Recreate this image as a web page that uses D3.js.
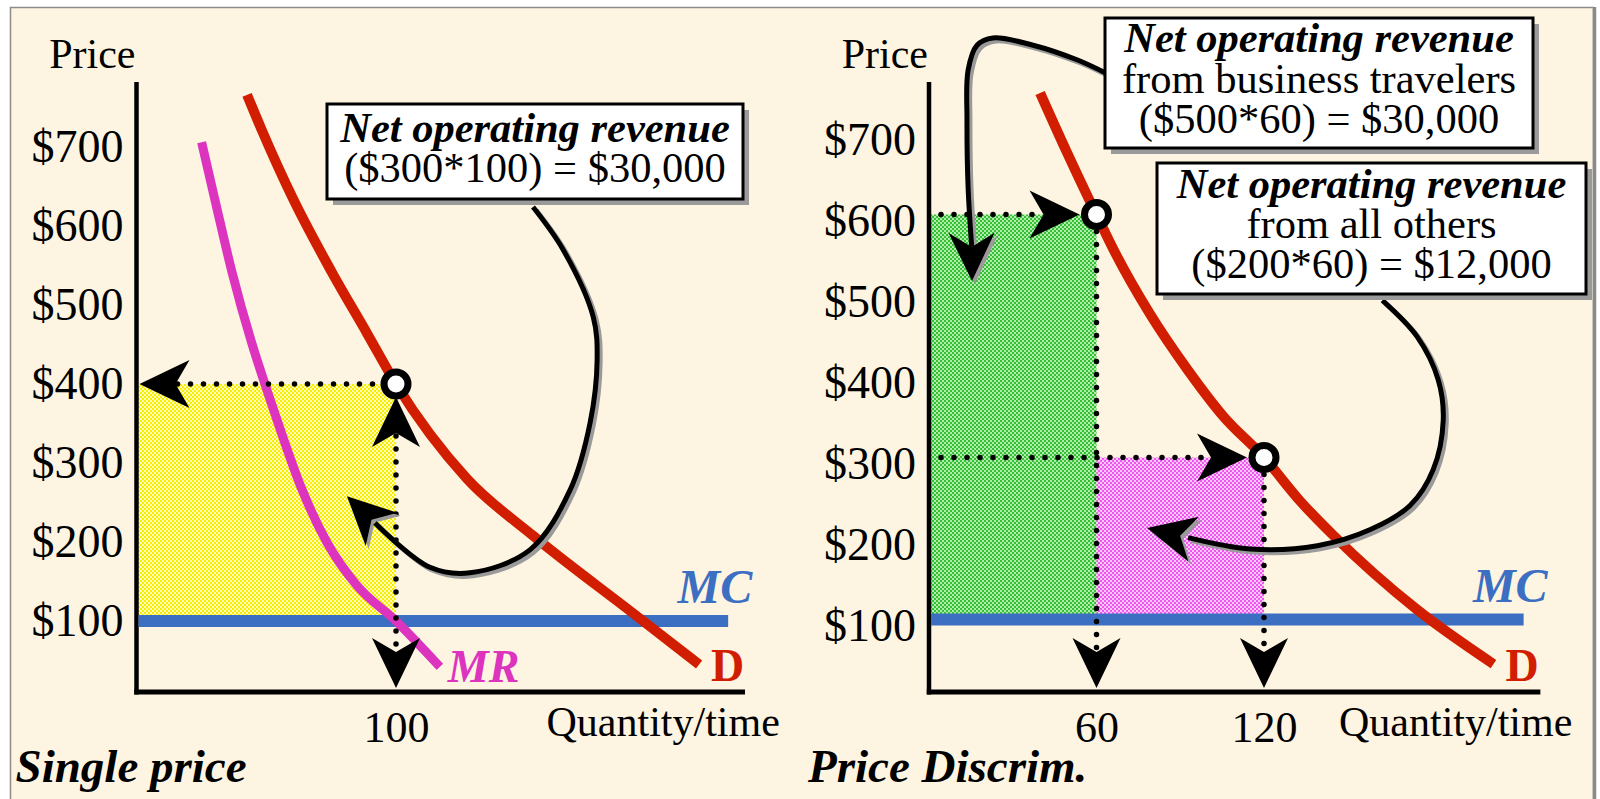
<!DOCTYPE html>
<html>
<head>
<meta charset="utf-8">
<script src="https://cdn.jsdelivr.net/npm/d3@7"></script>
<style>
  html, body { margin: 0; padding: 0; background: #ffffff; }
  svg { display: block; }
</style>
</head>
<body>
<svg id="chart" width="1600" height="799"></svg>
<script>
// ---- values -------------------------------------------------------------
const priceTicks = [100, 200, 300, 400, 500, 600, 700];
const marginalCost = 100;

// Single price: one quantity, one price
const singleQtyTicks = [100];
const singleQty = 100;
const singlePrice = 400;
const demandSingle = [[42.6,766],[48.2,722],[60.4,634],[75.2,542],[88.7,465],[100,400],
                      [127.4,280],[152.8,208],[191.3,110],[216.8,45]];
const marginalRevenue = [[25.1,706],[30.3,632],[36.7,543],[44.4,452],[50.4,391],[54.0,356],
                         [63.7,267],[73.3,200],[84.9,145],[100,100],[116.9,42]];

// Price discrimination: business travellers first, then everybody else
const discrimQtyTicks = [60, 120];
const segmentQty = [60, 120];
const segmentPrice = [600, 300];
const demandDiscrim = [[39.8,750],[49.5,676],[56.6,624],[60,600],[65.9,558],[79.2,477],
                       [92.5,409],[105.4,351],[120,300],[133,246],[144.8,204],
                       [174.9,112],[202.2,45]];

// Callout wording
const singleBox = [
  { text: "Net operating revenue", em: true },
  { text: "($300*100) = $30,000", em: false }
];
const businessBox = [
  { text: "Net operating revenue", em: true },
  { text: "from business travelers", em: false },
  { text: "($500*60) = $30,000", em: false }
];
const othersBox = [
  { text: "Net operating revenue", em: true },
  { text: "from all others", em: false },
  { text: "($200*60) = $12,000", em: false }
];

// Callout leader paths (in each panel's quantity/price units) and their arrow tips
const singleLeader = [[152.8,624],[164.4,570],[176,485],[177.5,430],[174.8,351],[167.1,266],
                      [151.6,190],[128.5,161],[113.1,168],[91.9,224]];
const singleLeaderTip = [81.1, 258];
const businessLeader = [[63.1,775],[53,791],[37.3,809],[22.9,818],[17.2,809],[14,778],
                        [13.6,717],[14,634],[15.3,560]];
const businessLeaderTip = [15.4, 518];
const othersLeader = [[162.4,494],[174.9,449],[182.4,396],[184.2,346],[180.6,285],[172.4,241],
                      [158.1,211],[139.1,191],[115.1,187],[92.8,201]];
const othersLeaderTip = [78.1, 213];

// ---- styling ------------------------------------------------------------
const SERIF = '"Liberation Serif", "Times New Roman", Times, serif';
const CREAM = "#fdf5e2";
const RED = "#d21e00";
const MAGENTA = "#dc34be";
const BLUE = "#3c6fc1";
const AXIS_Y = 692;

const svg = d3.select("#chart");
const defs = svg.append("defs");

function checker(id, dark, light) {
  const p = defs.append("pattern").attr("id", id)
    .attr("patternUnits", "userSpaceOnUse").attr("width", 4).attr("height", 4);
  p.append("rect").attr("width", 4).attr("height", 4).attr("fill", light);
  p.append("rect").attr("width", 2).attr("height", 2).attr("fill", dark);
  p.append("rect").attr("x", 2).attr("y", 2).attr("width", 2).attr("height", 2).attr("fill", dark);
}
checker("fillYellow", "#f7ee00", "#fffbb8");
checker("fillGreen", "#34c034", "#b2ecab");
checker("fillPink", "#ef55ef", "#ffc8ff");

// page frame
svg.append("rect").attr("x", 10.5).attr("y", 7.5).attr("width", 1583).attr("height", 800)
  .attr("fill", CREAM).attr("stroke", "#8c8c8c").attr("stroke-width", 1.5);
svg.append("line").attr("x1", 1594.5).attr("x2", 1594.5).attr("y1", 7).attr("y2", 799)
  .attr("stroke", "#8a8a8a").attr("stroke-width", 3.5);

// ---- panels -------------------------------------------------------------
const panels = [
  {
    key: "single",
    x: d3.scaleLinear().domain([0, 100]).range([136.5, 396]),
    y: d3.scaleLinear().domain([0, 700]).range([700, 147]),
    qMax: 234.5, mcEnd: 228, tickDy: 14.5,
    qTicks: singleQtyTicks, demand: demandSingle, title: "Single price"
  },
  {
    key: "discrim",
    x: d3.scaleLinear().domain([0, 120]).range([929, 1264]),
    y: d3.scaleLinear().domain([0, 700]).range([700.5, 133.5]),
    qMax: 219, mcEnd: 213, tickDy: 20.5,
    qTicks: discrimQtyTicks, demand: demandDiscrim, title: "Price Discrim."
  }
];

function arrowHead(g, tip, ux, uy, L, W, N, fill) {
  const px = -uy, py = ux;
  const pts = [
    [tip[0], tip[1]],
    [tip[0] - L * ux + W * px, tip[1] - L * uy + W * py],
    [tip[0] - N * ux, tip[1] - N * uy],
    [tip[0] - L * ux - W * px, tip[1] - L * uy - W * py]
  ];
  return g.append("polygon").attr("points", pts.map(p => p.join(",")).join(" ")).attr("fill", fill);
}

function dotted(g, x1, y1, x2, y2) {
  g.append("line").attr("x1", x1).attr("y1", y1).attr("x2", x2).attr("y2", y2)
    .attr("stroke", "#000").attr("stroke-width", 5.5)
    .attr("stroke-linecap", "round").attr("stroke-dasharray", "0 13");
}

function leader(g, P, pts, tipQP) {
  const px = pts.map(d => [P.x(d[0]), P.y(d[1])]);
  const tip = [P.x(tipQP[0]), P.y(tipQP[1])];
  const last = px[px.length - 1];
  let dx = tip[0] - last[0], dy = tip[1] - last[1];
  const len = Math.hypot(dx, dy); dx /= len; dy /= len;
  const line = d3.line().curve(d3.curveCatmullRom.alpha(0.5));
  const shadow = g.append("g").attr("transform", "translate(3,3)");
  shadow.append("path").attr("d", line(px)).attr("fill", "none")
    .attr("stroke", "#9a9a9a").attr("stroke-width", 5);
  arrowHead(shadow, tip, dx, dy, 48, 23, 34, "#9a9a9a");
  g.append("path").attr("d", line(px)).attr("fill", "none")
    .attr("stroke", "#000").attr("stroke-width", 5);
  arrowHead(g, tip, dx, dy, 48, 23, 34, "#000");
}

function calloutBox(g, x, y, w, h, lines, baselines) {
  g.append("rect").attr("x", x + 6).attr("y", y + 6).attr("width", w).attr("height", h)
    .attr("fill", "#9a9a9a");
  g.append("rect").attr("x", x).attr("y", y).attr("width", w).attr("height", h)
    .attr("fill", "#ffffff").attr("stroke", "#000").attr("stroke-width", 3);
  g.selectAll("text.line").data(lines).join("text").attr("class", "line")
    .attr("x", x + w / 2).attr("y", (d, i) => baselines[i])
    .attr("text-anchor", "middle").attr("font-family", SERIF).attr("font-size", 42.5)
    .attr("font-weight", d => d.em ? "bold" : "normal")
    .attr("font-style", d => d.em ? "italic" : "normal")
    .text(d => d.text);
}

panels.forEach(P => {
  const g = svg.append("g").attr("class", "panel-" + P.key);
  const line = d3.line().x(d => P.x(d[0])).y(d => P.y(d[1])).curve(d3.curveMonotoneX);
  const x0 = P.x(0);

  // revenue areas
  if (P.key === "single") {
    g.append("rect").attr("x", x0 + 2).attr("y", P.y(singlePrice))
      .attr("width", P.x(singleQty) - x0 - 2).attr("height", P.y(marginalCost) - P.y(singlePrice))
      .attr("fill", "url(#fillYellow)");
  } else {
    g.append("rect").attr("x", x0 + 2).attr("y", P.y(segmentPrice[0]))
      .attr("width", P.x(segmentQty[0]) - x0 - 2).attr("height", P.y(marginalCost) - P.y(segmentPrice[0]))
      .attr("fill", "url(#fillGreen)");
    g.append("rect").attr("x", P.x(segmentQty[0])).attr("y", P.y(segmentPrice[1]))
      .attr("width", P.x(segmentQty[1]) - P.x(segmentQty[0]))
      .attr("height", P.y(marginalCost) - P.y(segmentPrice[1]))
      .attr("fill", "url(#fillPink)");
  }

  // axes
  g.append("line").attr("x1", x0).attr("x2", x0).attr("y1", 82).attr("y2", AXIS_Y + 2.5)
    .attr("stroke", "#000").attr("stroke-width", 4.5);
  g.append("line").attr("x1", x0 - 2.25).attr("x2", P.x(P.qMax)).attr("y1", AXIS_Y).attr("y2", AXIS_Y)
    .attr("stroke", "#000").attr("stroke-width", 5);

  const ya = g.append("g").attr("transform", `translate(${x0},0)`)
    .call(d3.axisLeft(P.y).tickValues(priceTicks).tickFormat(d => "$" + d).tickSize(0).tickPadding(13));
  ya.select(".domain").remove();
  ya.attr("font-family", SERIF).attr("font-size", 46);
  ya.selectAll("text").attr("fill", "#000").attr("dy", P.tickDy);

  const xa = g.append("g").attr("transform", `translate(0,${AXIS_Y})`)
    .call(d3.axisBottom(P.x).tickValues(P.qTicks).tickSize(0));
  xa.select(".domain").remove();
  xa.attr("font-family", SERIF).attr("font-size", 44);
  xa.selectAll("text").attr("fill", "#000").attr("y", 50).attr("dy", 0);

  g.append("text").attr("x", x0 - 1).attr("y", 68).attr("text-anchor", "end")
    .attr("font-family", SERIF).attr("font-size", 42).text("Price");
  g.append("text").attr("x", x0 + 410).attr("y", 736)
    .attr("font-family", SERIF).attr("font-size", 42).text("Quantity/time");
  g.append("text").attr("x", x0 - 121).attr("y", 782)
    .attr("font-family", SERIF).attr("font-size", 47).attr("font-weight", "bold")
    .attr("font-style", "italic").text(P.title);

  // marginal cost
  g.append("line").attr("x1", x0 + 2).attr("x2", P.x(P.mcEnd))
    .attr("y1", P.y(marginalCost)).attr("y2", P.y(marginalCost))
    .attr("stroke", BLUE).attr("stroke-width", 12);
  g.append("text").attr("x", P.x(P.mcEnd) + 24).attr("y", P.y(marginalCost) - 18)
    .attr("text-anchor", "end").attr("font-family", SERIF).attr("font-size", 48)
    .attr("font-weight", "bold").attr("font-style", "italic").attr("fill", BLUE).text("MC");

  // marginal revenue (single price only)
  if (P.key === "single") {
    g.append("path").attr("d", line(marginalRevenue)).attr("fill", "none")
      .attr("stroke", MAGENTA).attr("stroke-width", 9);
    const e = marginalRevenue[marginalRevenue.length - 1];
    g.append("text").attr("x", P.x(e[0]) + 8).attr("y", P.y(e[1]) + 15)
      .attr("font-family", SERIF).attr("font-size", 46).attr("font-weight", "bold")
      .attr("font-style", "italic").attr("fill", MAGENTA).text("MR");
  }

  // demand
  g.append("path").attr("d", line(P.demand)).attr("fill", "none")
    .attr("stroke", RED).attr("stroke-width", 10);
  const de = P.demand[P.demand.length - 1];
  g.append("text").attr("x", P.x(de[0]) + 12).attr("y", P.y(de[1]) + 17)
    .attr("font-family", SERIF).attr("font-size", 46).attr("font-weight", "bold")
    .attr("fill", RED).text("D");

  // guide lines with arrows
  const L = 50, W = 24, N = 36;
  const pts = P.key === "single" ? [[singleQty, singlePrice]]
                                 : segmentQty.map((q, i) => [q, segmentPrice[i]]);
  pts.forEach(([q, p]) => {
    const cx = P.x(q), cy = P.y(p);
    const downTip = AXIS_Y - 4;
    if (P.key === "single") {
      const leftTip = x0 + 3;
      dotted(g, leftTip + N + 2, cy, cx - 16, cy);
      arrowHead(g, [leftTip, cy], -1, 0, L, W, N, "#000");
      const upTip = cy + 13;
      dotted(g, cx, upTip + N + 3, cx, downTip - N - 2);
      arrowHead(g, [cx, upTip], 0, -1, L, W, N, "#000");
    } else {
      const rightTip = cx - 17;
      dotted(g, x0 + 12, cy, rightTip - N, cy);
      arrowHead(g, [rightTip, cy], 1, 0, L, W, N, "#000");
      dotted(g, cx, cy + 17, cx, downTip - N - 2);
    }
    arrowHead(g, [cx, downTip], 0, 1, L, W, N, "#000");
  });

  // callout leaders
  if (P.key === "single") {
    leader(g, P, singleLeader, singleLeaderTip);
  } else {
    leader(g, P, businessLeader, businessLeaderTip);
    leader(g, P, othersLeader, othersLeaderTip);
  }

  // price/quantity points
  g.selectAll("circle.pt").data(pts).join("circle").attr("class", "pt")
    .attr("cx", d => P.x(d[0])).attr("cy", d => P.y(d[1])).attr("r", 12)
    .attr("fill", "#fff").attr("stroke", "#000").attr("stroke-width", 7);

  // callout boxes
  if (P.key === "single") {
    calloutBox(g.append("g"), 327, 104, 416, 95, singleBox, [141.7, 181.7]);
  } else {
    calloutBox(g.append("g"), 1105, 18, 428, 130, businessBox, [52, 93, 133]);
    calloutBox(g.append("g"), 1157, 163, 429, 131, othersBox, [198, 238, 278]);
  }
});
</script>
</body>
</html>
